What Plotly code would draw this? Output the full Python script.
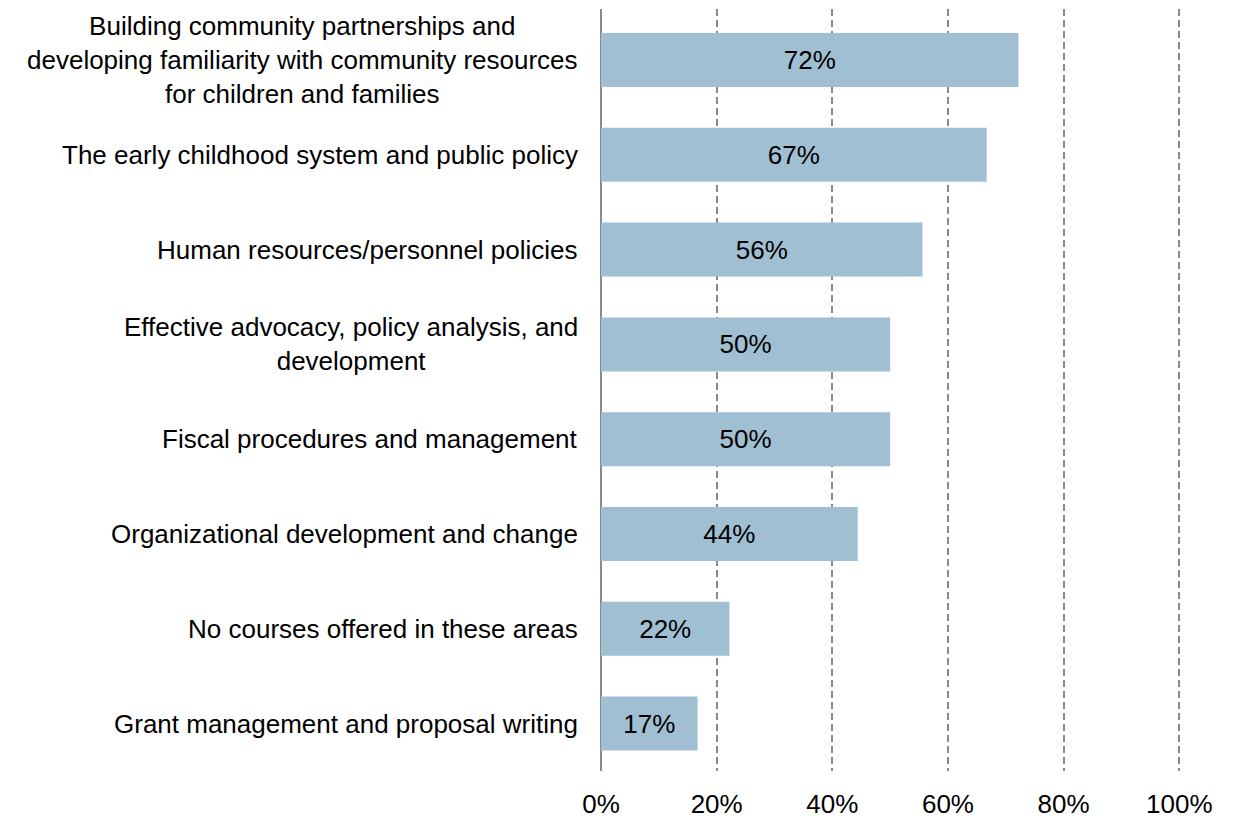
import plotly.graph_objects as go

categories = [
    "Building community partnerships and<br>developing familiarity with community resources<br>for children and families",
    "The early childhood system and public policy",
    "Human resources/personnel policies",
    "Effective advocacy, policy analysis, and<br>development",
    "Fiscal procedures and management",
    "Organizational development and change",
    "No courses offered in these areas",
    "Grant management and proposal writing",
]
values = [72.2, 66.7, 55.6, 50.0, 50.0, 44.4, 22.2, 16.7]
x_ticks = [0, 20, 40, 60, 80, 100]
x_tick_labels = ["0%", "20%", "40%", "60%", "80%", "100%"]

FONT = "Liberation Sans, Arial, sans-serif"
GRAY = "#8a8a8a"
FS = 26

fig = go.Figure()
fig.add_trace(go.Bar(
    x=values,
    y=categories,
    orientation="h",
    marker=dict(color="#a0bfd3", line=dict(width=0)),
    texttemplate="%{x:.0f}%",
    textposition="inside",
    insidetextanchor="middle",
    textfont=dict(family=FONT, size=FS, color="#000000"),
    hoverinfo="skip",
))

for cat in categories:
    fig.add_annotation(
        x=0, xref="paper", y=cat, yref="y",
        text=cat, showarrow=False, xanchor="right", yanchor="middle",
        align="center", xshift=-21,
        font=dict(family=FONT, size=FS, color="#000000"),
    )

fig.update_layout(
    width=1225, height=811,
    margin=dict(l=593, r=52, t=1, b=48),
    paper_bgcolor="white", plot_bgcolor="white",
    bargap=0.43,
    showlegend=False,
    xaxis=dict(
        range=[0, 100.3],
        tickvals=x_ticks, ticktext=x_tick_labels,
        showgrid=True, gridcolor=GRAY, gridwidth=2, griddash="7px,4px",
        zeroline=True, zerolinecolor=GRAY, zerolinewidth=2,
        showline=False,
        ticks="outside", ticklen=10, tickcolor="rgba(0,0,0,0)",
        tickfont=dict(family=FONT, size=FS, color="#000000"),
        fixedrange=True,
    ),
    yaxis=dict(
        autorange="reversed",
        showticklabels=False, showgrid=False, zeroline=False, showline=False,
        fixedrange=True,
    ),
)

fig.write_html("out.html")
